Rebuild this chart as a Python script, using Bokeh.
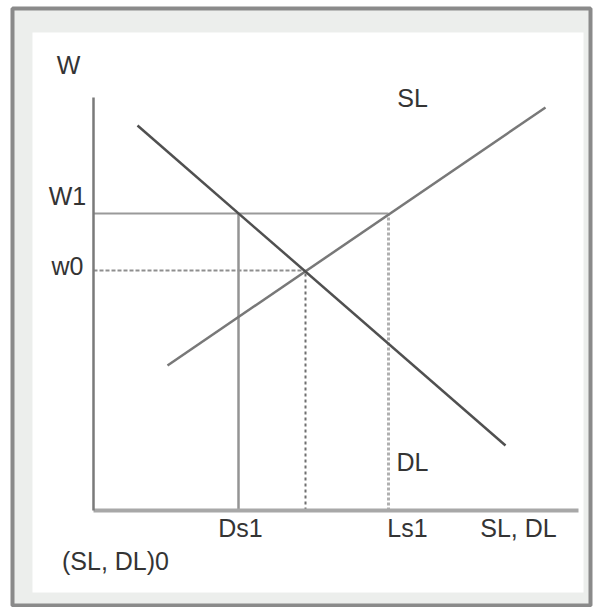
from bokeh.plotting import figure
from bokeh.models import Range1d, BoxAnnotation, ColumnDataSource
from bokeh.core.properties import value
from bokeh.embed import file_html
from bokeh.resources import INLINE

# ---- data (quantity of labour on x, wage on y) ----
dl_q = [4.4, 41.2]      # labour demand curve DL
dl_w = [38.5, 6.5]
sl_q = [7.4, 45.2]      # labour supply curve SL
sl_w = [14.5, 40.3]
w0 = 24.0               # equilibrium wage
w1 = 29.7               # wage floor
q0 = 21.2               # equilibrium quantity (SL, DL)0
ds1 = 14.5              # labour demanded at w1
ls1 = 29.5              # labour supplied at w1
q_axis_max = 48.5
w_axis_max = 41.3

label_text = ["W", "W1", "w0", "SL", "DL", "Ds1", "Ls1", "SL, DL", "(SL, DL)0"]
label_x = [-2.5, -2.6, -2.6, 31.9, 31.9, 14.7, 31.4, 42.5, 2.2]
label_y = [44.6, 31.5, 24.5, 41.3, 4.9, -1.7, -1.7, -1.7, -5.0]

p = figure(width=593, height=607,
           x_range=Range1d(-8.1, 49.7), y_range=Range1d(-9.5, 50.2),
           output_backend="svg", toolbar_location=None,
           x_axis_location=None, y_axis_location=None,
           min_border_left=12, min_border_right=3,
           min_border_top=8, min_border_bottom=2)
p.grid.visible = False
p.border_fill_color = "white"
p.background_fill_color = "#eceeec"
p.outline_line_color = "#8a8a8a"
p.outline_line_width = 4
p.outline_line_alpha = 1.0

panel = BoxAnnotation(left=-6.1, right=49.0, top=47.8, bottom=-8.2,
                      fill_color="white", fill_alpha=1.0, line_alpha=0,
                      level="underlay")
p.add_layout(panel)

# guide lines
p.line([0, ls1], [w1, w1], line_color="#9a9a9a", line_width=2)
p.line([0, q0], [w0, w0], line_color="#8f8f8f", line_width=2, line_dash="4 2")
p.line([ds1, ds1], [0, w1], line_color="#949494", line_width=2.5)
p.line([q0, q0], [0, w0], line_color="#6f6f6f", line_width=2, line_dash="3 3")
p.line([ls1, ls1], [0, w1], line_color="#b0b0b0", line_width=3, line_dash="3 2")

# axes
p.line([0, q_axis_max], [0, 0], line_color="#a8a8a8", line_width=4)
p.line([0, 0], [0, w_axis_max], line_color="#7a7a7a", line_width=2.5)

# curves
p.line(sl_q, sl_w, line_color="#787878", line_width=2.5)
p.line(dl_q, dl_w, line_color="#505050", line_width=2.5)

src = ColumnDataSource(dict(x=label_x, y=label_y, t=label_text))
p.text(x="x", y="y", text="t", source=src,
       text_font=value("Liberation Sans"), text_font_size=value("25px"),
       text_align="center", text_baseline="middle", text_color="#343434")

open("out.html", "w").write(file_html(p, INLINE))
